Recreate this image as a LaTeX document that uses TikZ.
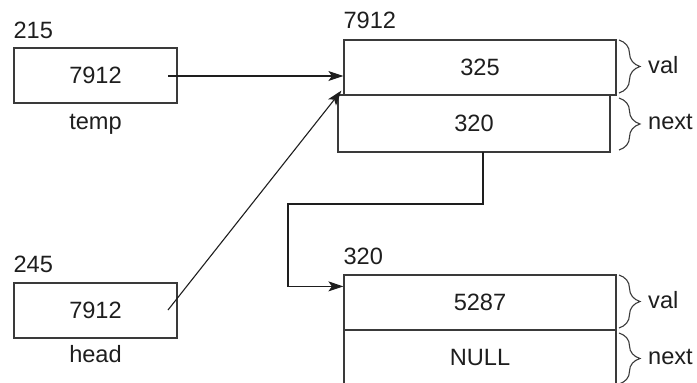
\documentclass[tikz,border=0pt]{standalone}
\usepackage{fontspec}
\setmainfont{Liberation Sans}
\usetikzlibrary{arrows.meta,decorations.pathreplacing,calc}
\definecolor{linecol}{HTML}{3A3A3A}
\definecolor{txtcol}{HTML}{1E1E1E}
\begin{document}
\begin{tikzpicture}[x=1pt,y=-1pt,
  font=\fontsize{23.6}{26}\selectfont,
  every node/.style={text=txtcol},
  cell/.style={draw=linecol, line width=1.2pt, minimum width=272pt, minimum height=55pt, inner sep=0pt},
  varbox/.style={cell, minimum width=163pt},
  addr/.style={anchor=base west, inner sep=0pt},
  under/.style={anchor=base, inner sep=0pt},
  side/.style={anchor=west, inner sep=0pt},
  arr/.style={draw=txtcol, line width=1.1pt, -{Stealth[length=15pt,width=10pt,inset=3.5pt]}},
  brc/.style={draw=linecol, line width=1.1pt, decorate, decoration={brace, amplitude=21pt}}]
\useasboundingbox (0,0) rectangle (697,383);
\clip (0,0) rectangle (697,383);

% pointer variables
\node[varbox] (temp) at (95.5,75.5) {7912};
\node[varbox] (head) at (95.5,310.5) {7912};
\node[addr] (tempaddr) at ($(temp.north west)+(0,-9)$) {215};
\node[addr] (headaddr) at ($(head.north west)+(0,-10)$) {245};
\node[under] (templab) at ($(temp.south)+(0,26)$) {temp};
\node[under] (headlab) at ($(head.south)+(0,24)$) {head};

% first list node
\node[cell] (val1) at (480,67.5) {325};
\node[cell, minimum height=57pt] (next1) at (474,123.5) {320};
\node[addr] (n1addr) at ($(val1.north west)+(0,-11)$) {7912};

% second list node
\node[cell] (val2) at (480,302.5) {5287};
\node[cell] (next2) at (480,357.5) {NULL};
\node[addr] (n2addr) at ($(val2.north west)+(0,-10)$) {320};

% braces and field names
\draw[brc] (619,40) -- (619,93);
\draw[brc] (619,98) -- (619,150);
\draw[brc] (619,275) -- (619,328);
\draw[brc] (619,333) -- (619,384);
\node[side] (v1) at (648,65) {val};
\node[side] (x1) at (648,122) {next};
\node[side] (v2) at (648,300) {val};
\node[side] (x2) at (648,357) {next};

% pointers
\coordinate (tptr) at (168,76);
\coordinate (hptr) at (168,310);
\coordinate (nptr) at (483,152);
\coordinate (bend) at (288,204);
\draw[arr] (tptr) -- (tptr -| val1.west);
\draw[arr] (hptr) -- ($(val1.south west)+(-2,-5)$);
\draw[arr] (nptr) |- (bend) |- ($(val2.north west)+(0,12)$);
\end{tikzpicture}
\end{document}
